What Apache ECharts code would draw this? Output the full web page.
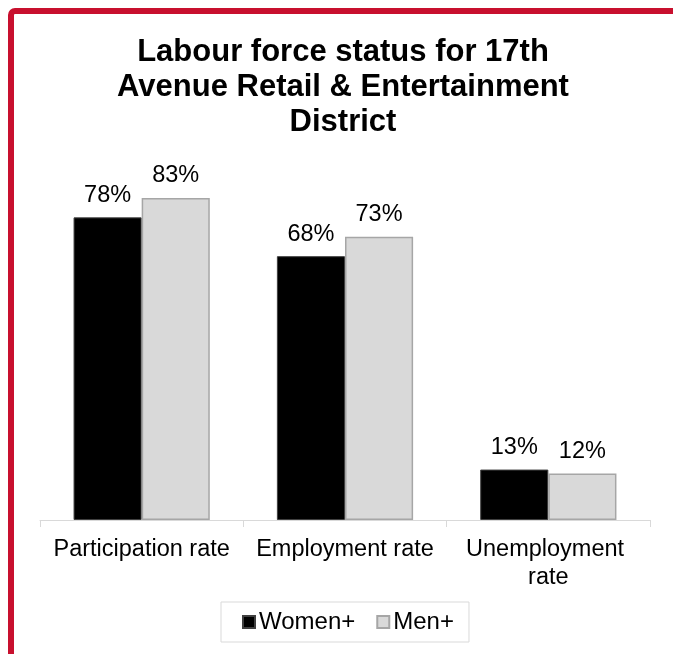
<!DOCTYPE html>
<html>
<head>
<meta charset="utf-8">
<script src="https://cdn.jsdelivr.net/npm/echarts@6/dist/echarts.min.js"></script>
<style>
  html, body { margin: 0; padding: 0; background: #fff; }
  #chart { width: 673px; height: 654px; }
</style>
</head>
<body>
<div id="chart"></div>
<script>
const titleText = 'Labour force status for 17th\nAvenue Retail & Entertainment\nDistrict';
const categories = ['Participation rate', 'Employment rate', 'Unemployment rate'];
const women = [78, 68, 13];
const men = [83, 73, 12];
const seriesNames = ['Women+', 'Men+'];

const FONT = '"Liberation Sans", Arial, sans-serif';
const chart = echarts.init(document.getElementById('chart'), null, { renderer: 'canvas' });

chart.setOption({
  backgroundColor: '#ffffff',
  animation: false,
  textStyle: { fontFamily: FONT },
  title: {
    text: titleText,
    left: 343,
    top: 35,
    padding: 0,
    textAlign: 'center',
    textStyle: { fontFamily: FONT, fontSize: 31, fontWeight: 'bold', color: '#000', lineHeight: 35 }
  },
  graphic: [{
    type: 'rect',
    silent: true,
    z: 100,
    shape: { x: 11, y: 11, width: 900, height: 900, r: 4 },
    style: { fill: 'none', stroke: '#c8102e', lineWidth: 6 }
  }],
  legend: {
    data: seriesNames,
    left: 221,
    top: 602,
    orient: 'horizontal',
    padding: [8, 15, 8, 21],
    icon: 'rect',
    itemWidth: 12,
    itemHeight: 12,
    itemGap: 21,
    borderColor: '#d9d9d9',
    borderWidth: 1,
    textStyle: { fontFamily: FONT, fontSize: 24, color: '#000', padding: [0, 0, 0, -1] }
  },
  grid: { left: 40, right: 23, top: 132, bottom: 134, containLabel: false },
  xAxis: {
    type: 'category',
    data: categories,
    axisLine: { show: true, lineStyle: { color: '#d9d9d9', width: 1 } },
    axisTick: { show: true, length: 7, lineStyle: { color: '#d9d9d9' } },
    axisLabel: {
      interval: 0,
      margin: 16,
      fontFamily: FONT,
      fontSize: 23.5,
      color: '#000',
      lineHeight: 28,
      width: 195,
      overflow: 'break'
    }
  },
  yAxis: {
    type: 'value',
    min: 0,
    max: 100,
    show: false,
    splitLine: { show: false }
  },
  series: [
    {
      name: seriesNames[0],
      type: 'bar',
      data: women,
      barGap: '0%',
      barCategoryGap: '33%',
      itemStyle: { color: '#000000', borderColor: '#404040', borderWidth: 1 },
      label: {
        show: true, position: 'top', distance: 10,
        formatter: '{c}%', fontFamily: FONT, fontSize: 23.5, color: '#000'
      }
    },
    {
      name: seriesNames[1],
      type: 'bar',
      data: men,
      itemStyle: { color: '#d9d9d9', borderColor: '#a6a6a6', borderWidth: 1.5 },
      label: {
        show: true, position: 'top', distance: 10,
        formatter: '{c}%', fontFamily: FONT, fontSize: 23.5, color: '#000'
      }
    }
  ]
});
</script>
</body>
</html>
